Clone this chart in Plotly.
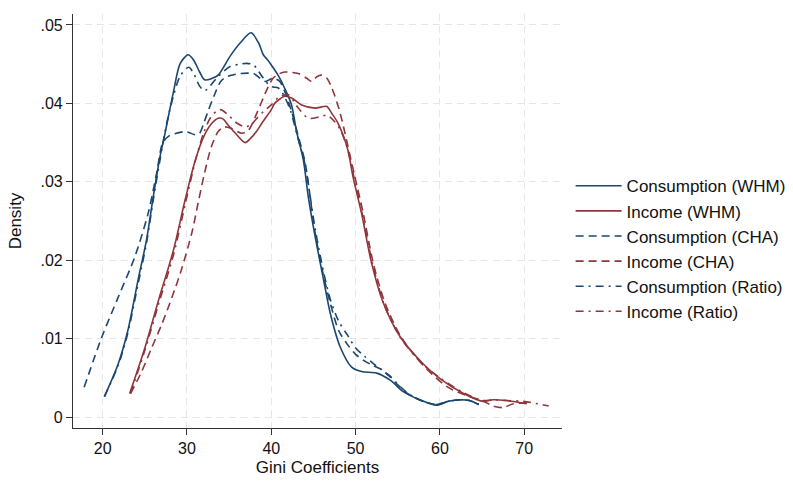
import plotly.graph_objects as go

# ---- data ----
cons_whm_x = [20.2, 21.85, 23.0, 24.2, 25.2, 26.0, 26.8, 27.4, 28.4, 29.2, 30.15, 30.8, 31.5, 32.1, 33.0, 33.7,
              35.1, 36.3, 37.6, 38.5, 39.05, 39.6, 40.0, 40.8, 41.6, 42.4, 43.0, 43.8, 44.4, 45.2, 46.2, 47.0,
              48.15, 49.5, 50.7, 52.5, 54.1, 55.7, 57.6, 59.6, 61.0, 62.4, 63.5, 64.6]
cons_whm_y = [0.0026, 0.0068, 0.0111, 0.0175, 0.0226, 0.0281, 0.0332, 0.0362, 0.0415, 0.0451, 0.0462, 0.0455,
              0.0440, 0.0430, 0.0432, 0.0436, 0.0460, 0.0477, 0.0490, 0.0477, 0.0462, 0.0455, 0.0449, 0.0436,
              0.0419, 0.0398, 0.0364, 0.0328, 0.0280, 0.0230, 0.0175, 0.0132, 0.0090, 0.0064, 0.0058, 0.0056,
              0.0047, 0.0032, 0.0022, 0.0015, 0.0020, 0.0022, 0.0021, 0.0016]

inc_whm_x = [23.2, 25.0, 26.6, 28.4, 29.8, 31.0, 32.0, 32.9, 33.7, 34.3, 34.9, 35.9, 36.9, 37.5, 38.3, 38.9,
             40.0, 40.4, 41.6, 42.4, 43.6, 45.2, 46.2, 46.6, 47.2, 47.8, 48.5, 49.1, 49.7, 50.7, 51.9, 53.3,
             55.3, 58.0, 60.0, 62.8, 65.1, 66.3, 67.9, 70.3]
inc_whm_y = [0.0030, 0.0088, 0.0148, 0.0213, 0.0278, 0.0328, 0.0358, 0.0374, 0.0381, 0.0380, 0.0372, 0.0360,
             0.0350, 0.0355, 0.0365, 0.0375, 0.0392, 0.0400, 0.0409, 0.0407, 0.0398, 0.0394, 0.0396, 0.0396,
             0.0387, 0.0377, 0.0360, 0.0340, 0.0306, 0.0260, 0.0196, 0.0145, 0.0102, 0.0068, 0.0049, 0.0030,
             0.0020, 0.0022, 0.0021, 0.0017]

cons_cha_x = [17.8, 19.9, 21.85, 23.8, 25.4, 26.4, 27.1, 27.8, 29.8, 31.0, 31.5, 32.0, 32.5, 33.3, 34.0, 34.7,
              36.3, 37.9, 38.7, 39.3, 40.2, 41.0, 41.6, 42.4, 43.2, 44.0, 45.2, 46.2, 47.0, 48.0, 49.0, 50.0,
              51.0, 52.0, 53.0, 54.0, 55.0, 56.0, 57.0, 58.0, 59.6, 61.0, 62.4, 63.5, 64.6]
cons_cha_y = [0.0038, 0.0102, 0.0153, 0.0204, 0.0260, 0.0311, 0.0349, 0.0358, 0.0364, 0.0360, 0.0362, 0.0375,
              0.0390, 0.0412, 0.0428, 0.0434, 0.0438, 0.0438, 0.0432, 0.0428, 0.0432, 0.0428, 0.0415, 0.0390,
              0.0358, 0.0325, 0.0235, 0.0180, 0.0145, 0.0110, 0.0093, 0.0080, 0.0072, 0.0066, 0.0061, 0.0052,
              0.0041, 0.0031, 0.0025, 0.0020, 0.0016, 0.0020, 0.0022, 0.0021, 0.0016]

inc_cha_x = [23.3, 24.5, 25.8, 27.0, 28.2, 29.4, 30.6, 31.3, 32.1, 32.9, 33.7, 34.4, 35.3, 36.5, 37.3, 38.3,
             39.45, 40.2, 40.8, 41.6, 43.2, 44.2, 44.8, 45.4, 46.0, 46.6, 47.2, 48.0, 48.7, 49.3, 49.9, 50.9,
             52.1, 53.5, 55.4, 58.0, 60.8, 63.0, 65.0, 66.3, 67.5, 68.7, 70.3]
inc_cha_y = [0.0030, 0.0055, 0.0088, 0.0118, 0.0152, 0.0190, 0.0236, 0.0272, 0.0312, 0.0345, 0.0364, 0.0370,
             0.0368, 0.0362, 0.0366, 0.0388, 0.0417, 0.0432, 0.0437, 0.0440, 0.0438, 0.0432, 0.0428, 0.0434,
             0.0436, 0.0432, 0.0419, 0.0394, 0.0364, 0.0335, 0.0307, 0.0260, 0.0196, 0.0145, 0.0102, 0.0066,
             0.0039, 0.0028, 0.0021, 0.0014, 0.0012, 0.0017, 0.0018]

cons_ratio_x = [20.2, 21.85, 23.0, 24.2, 25.2, 26.0, 26.8, 27.6, 28.4, 29.2, 30.2, 30.8, 31.5, 32.1, 32.8, 33.5,
                35.1, 36.3, 37.1, 37.9, 38.8, 39.6, 40.2, 40.8, 41.5, 42.3, 43.1, 44.0, 45.2, 46.2, 47.0, 48.0,
                49.0, 50.0, 51.0, 52.0, 53.0, 54.0, 55.0, 56.0, 57.0, 58.0, 59.6, 61.0, 62.4, 63.5, 64.6]
cons_ratio_y = [0.0026, 0.0066, 0.0108, 0.0170, 0.0222, 0.0277, 0.0328, 0.0375, 0.0410, 0.0435, 0.0446, 0.0438,
                0.0422, 0.0416, 0.0423, 0.0432, 0.0447, 0.0450, 0.0451, 0.0449, 0.0436, 0.0425, 0.0421, 0.0420,
                0.0410, 0.0390, 0.0358, 0.0322, 0.0240, 0.0185, 0.0150, 0.0122, 0.0105, 0.0088, 0.0078, 0.0069,
                0.0061, 0.0053, 0.0042, 0.0032, 0.0025, 0.0020, 0.0016, 0.0020, 0.0022, 0.0021, 0.0016]

inc_ratio_x = [23.3, 25.0, 26.6, 28.4, 29.8, 31.0, 32.0, 32.8, 33.5, 34.0, 34.7, 35.9, 36.9, 37.6, 38.3, 39.1,
               40.0, 40.8, 42.0, 43.2, 44.4, 45.8, 46.6, 47.5, 48.3, 49.1, 49.8, 50.8, 52.0, 53.4, 55.4, 58.0,
               60.0, 62.8, 65.1, 66.3, 67.9, 69.9, 72.9]
inc_ratio_y = [0.0030, 0.0085, 0.0143, 0.0207, 0.0272, 0.0327, 0.0363, 0.0382, 0.0390, 0.0392, 0.0387, 0.0375,
               0.0370, 0.0373, 0.0381, 0.0390, 0.0398, 0.0407, 0.0411, 0.0394, 0.0381, 0.0383, 0.0385, 0.0377,
               0.0364, 0.0340, 0.0306, 0.0258, 0.0196, 0.0143, 0.0100, 0.0067, 0.0050, 0.0031, 0.0021, 0.0022,
               0.0021, 0.0020, 0.0014]

x_ticks = [20, 30, 40, 50, 60, 70]
y_ticks = [0, 0.01, 0.02, 0.03, 0.04, 0.05]
y_tick_labels = ["0", ".01", ".02", ".03", ".04", ".05"]

BLUE = "#1a476f"
RED = "#90353b"
DASH = "8px,5px"
DASHDOT = "8px,5px,2px,5px"

series = [
    ("Consumption (WHM)", cons_whm_x, cons_whm_y, BLUE, "solid"),
    ("Income (WHM)", inc_whm_x, inc_whm_y, RED, "solid"),
    ("Consumption (CHA)", cons_cha_x, cons_cha_y, BLUE, DASH),
    ("Income (CHA)", inc_cha_x, inc_cha_y, RED, DASH),
    ("Consumption (Ratio)", cons_ratio_x, cons_ratio_y, BLUE, DASHDOT),
    ("Income (Ratio)", inc_ratio_x, inc_ratio_y, RED, DASHDOT),
]

fig = go.Figure()
for name, xs, ys, col, dash in series:
    fig.add_trace(go.Scatter(x=xs, y=ys, mode="lines", name=name,
                             line=dict(color=col, width=1.6, dash=dash, shape="spline", smoothing=0.8)))

FONT = "Liberation Sans, Arial, sans-serif"
fig.update_layout(
    width=793, height=483,
    margin=dict(l=73, r=231, t=14, b=55, autoexpand=False),
    paper_bgcolor="white", plot_bgcolor="white",
    font=dict(family=FONT, size=16, color="#222"),
    legend=dict(x=1.0176, y=0.433, xanchor="left", yanchor="middle",
                font=dict(size=17, color="#111"), itemwidth=46,
                bgcolor="rgba(0,0,0,0)", borderwidth=0, tracegroupgap=0),
    showlegend=True,
)
fig.update_xaxes(range=[16.48, 74.48], tickvals=x_ticks, ticks="outside", ticklen=6,
                 tickcolor="#333", showline=True, linecolor="#333", linewidth=1.2,
                 showgrid=True, gridcolor="#e6e6e6", griddash="7px,5px", gridwidth=1.3,
                 zeroline=False, tickfont=dict(size=16, color="#111"), automargin=False,
                 title=dict(text="Gini Coefficients", font=dict(size=17, color="#111"), standoff=4))
fig.update_yaxes(range=[-0.0014, 0.0514], tickvals=y_ticks, ticktext=y_tick_labels, ticks="outside",
                 ticklen=6, tickcolor="#333", showline=True, linecolor="#333", linewidth=1.2,
                 showgrid=True, gridcolor="#e6e6e6", griddash="7px,5px", gridwidth=1.3,
                 zeroline=False, tickfont=dict(size=16, color="#111"), automargin=False,
                 title=dict(text="Density", font=dict(size=17, color="#111"), standoff=14))

fig.write_html("out.html")
